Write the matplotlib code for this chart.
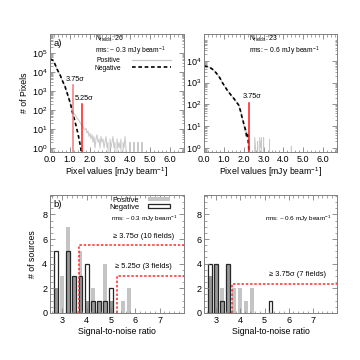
import numpy as np
import matplotlib as mpl
mpl.use("Agg")
import matplotlib.pyplot as plt
from matplotlib.lines import Line2D
from matplotlib.patches import Patch
from matplotlib.ticker import MultipleLocator, LogLocator, NullFormatter


# ---- panel a) pixel histograms (values read off the figure) ----
pix_left = np.round(np.arange(0.0, 4.701, 0.05), 2)
neg_left = [47000, 46000, 43000, 39000, 33000, 25000, 19000, 14000, 11000, 8800,
            7000, 5200, 3800, 2900, 2200, 1700, 1150, 800, 550, 370,
            250, 160, 90, 55, 38, 24, 15, 9, 5.5, 3,
            1.6, 0.8, 0]
pos_left = [47000, 46000, 43000, 39000, 33000, 25000, 19000, 14000, 11000, 8800,
            7000, 5200, 3800, 2900, 2200, 1700, 1150, 800, 550, 370,
            250, 160, 95, 75, 62, 55, 48, 38, 32, 28,
            22, 18, 15, 13, 10, 9, 11, 6, 8, 4,
            6, 3, 5, 2, 4, 1, 3, 5, 2, 3,
            1, 4, 2, 3, 1, 2, 4, 1, 2, 0,
            3, 1, 2, 4, 1, 2, 0, 3, 1, 2,
            1, 3, 0, 2, 1, 4, 1, 0, 0, 0,
            2, 0, 0, 0, 2, 0, 0, 0, 2, 0,
            0, 0, 2, 0, 0]

pix_right = np.round(np.arange(0.0, 4.501, 0.05), 2)
neg_right = [5700, 5650, 5600, 5450, 5250, 5050, 4800, 4500, 4200, 3850,
             3500, 3150, 2800, 2450, 2150, 1850, 1600, 1300, 1050, 900,
             760, 650, 550, 470, 400, 350, 310, 270, 240, 210,
             185, 160, 140, 120, 105, 90, 63, 45, 28, 20,
             13, 9, 6, 3, 4, 1, 0]
pos_right = [5700, 5650, 5600, 5450, 5250, 5050, 4800, 4500, 4200, 3850,
             3500, 3150, 2800, 2450, 2150, 1850, 1600, 1300, 1050, 900,
             760, 650, 550, 470, 400, 350, 310, 270, 240, 210,
             185, 160, 140, 120, 105, 90, 63, 45, 30, 15,
             12, 6, 8, 3, 5, 2, 0, 0, 0, 0,
             0, 3, 1, 0, 2, 0, 3, 1, 3, 0,
             3, 0, 0, 0, 0, 0, 2.5, 0, 0, 0,
             0, 0, 0, 0, 0, 0, 0, 0, 0, 0,
             0, 0, 0, 0, 0, 0, 0, 0, 1.2, 0,
             0]

rms_left, rms_right = 0.3, 0.6
nfields_left, nfields_right = 26, 23
sig_cut_left = [3.75, 5.25]
sig_top_left = [2000, 200]
sig_cut_right = [3.75]
sig_top_right = [120]

# ---- panel b) source counts per S/N bin ----
snr_bins = [2.75, 3.0, 3.25, 3.5, 3.75, 4.0, 4.25, 4.5, 4.75, 5.0, 5.25, 5.5, 5.75]
pos_src_left = [2, 3, 7, 3, 5, 1, 2, 1, 4, 1, 0, 1, 2]
neg_src_left = [5, 0, 5, 3, 3, 4, 1, 1, 1, 2, 0, 0, 0]
pos_src_right = [3, 4, 2, 4, 2, 2, 1, 2, 0, 0, 0, 0, 0]
neg_src_right = [4, 4, 1, 4, 0, 0, 0, 0, 0, 0, 1, 0, 0]

thr_left = [(3.67, 5.5, "≥ 3.75σ (10 fields)"), (5.24, 3.0, "≥ 5.25σ (3 fields)")]
thr_right = [(3.67, 2.35, "≥ 3.75σ (7 fields)")]

LIGHT = "#c4c4c4"
DARK = "#9a9a9a"
POSLINE = "#c8c8c8"
FRAME = "0.5"


def set_rc_params():
    params = {
        "font.family": ["Liberation Sans", "DejaVu Sans"],
        "font.size": 6.3,
        "mathtext.fontset": "custom",
        "mathtext.rm": "Liberation Sans",
        "mathtext.it": "Liberation Sans:italic",
        "mathtext.default": "regular",
        "axes.linewidth": 0.7,
        "axes.edgecolor": FRAME,
        "xtick.direction": "in",
        "ytick.direction": "in",
        "xtick.top": True,
        "ytick.right": True,
        "xtick.color": FRAME,
        "ytick.color": FRAME,
        "xtick.labelcolor": "black",
        "ytick.labelcolor": "black",
        "xtick.major.size": 3.5,
        "ytick.major.size": 3.5,
        "xtick.minor.size": 1.8,
        "ytick.minor.size": 1.8,
        "xtick.major.width": 0.6,
        "ytick.major.width": 0.6,
        "xtick.minor.width": 0.5,
        "ytick.minor.width": 0.5,
        "xtick.major.pad": 2.5,
        "ytick.major.pad": 2,
        "xtick.labelsize": 6.5,
        "ytick.labelsize": 6.5,
    }
    for p in params:
        mpl.rcParams[p] = params[p]


def pixel_panel(ax, x, pos, neg, cuts, tops, rms, nf, ylim, ymax_dec, light_first):
    ax.plot(x[:len(pos)], pos, color=POSLINE, lw=0.7)
    ax.plot(x[:len(neg)], neg, color="black", lw=1.2, dashes=(2.2, 1.6))
    for i, (c, t) in enumerate(zip(cuts, tops)):
        col = "#f07a7a" if (light_first and i == 0) else "#ff1a1a"
        ax.plot([c * rms, c * rms], [ylim[0], t], color=col, lw=1.1)
        ax.text(c * rms + 0.15, t * 1.35, f"{c:.2f}σ", ha="center", va="bottom", fontsize=5.3)
    ax.set_yscale("log")
    ax.set_xlim(0, 6.7)
    ax.set_ylim(*ylim)
    ax.set_yticks([10.0 ** k for k in range(ymax_dec + 1)])
    ax.yaxis.set_minor_locator(LogLocator(base=10, subs=np.arange(2, 10)))
    ax.yaxis.set_minor_formatter(NullFormatter())
    ax.set_xticks(np.arange(0, 6.01, 1.0))
    ax.set_xticklabels([f"{v:.1f}" for v in np.arange(0, 6.01, 1.0)])
    ax.xaxis.set_minor_locator(MultipleLocator(0.2))
    ax.set_xlabel(r"Pixel values [mJy beam$^{-1}$]", labelpad=1)
    ax.text(0.335, 0.955, r"N$_{\rm fields}$: %d" % nf, transform=ax.transAxes,
            fontsize=4.9, va="center")
    ax.text(0.335, 0.852, r"rms: ~ %.1f mJy beam$^{-1}$" % rms, transform=ax.transAxes,
            fontsize=4.9, va="center")


def source_panel(ax, pos, neg, thr, rms):
    pos = np.array(pos)
    neg = np.array(neg)
    ax.bar(snr_bins, pos, width=0.16, color=LIGHT, lw=0)
    both = np.minimum(pos, neg)
    ax.bar(snr_bins, both, width=0.16, color=DARK, lw=0)
    m = neg > 0
    ax.bar(np.array(snr_bins)[m], neg[m], width=0.16, fill=False,
           edgecolor="#262626", lw=0.9)
    for xv, yv, lab in thr:
        ax.plot([xv, xv, 8.0], [0, yv, yv], color="#ff2a2a", lw=1.1, dashes=(1.6, 1.2))
        ax.text(6.35, yv + 0.45, lab, ha="center", va="bottom", fontsize=5.4)
    ax.set_xlim(2.5, 8.0)
    ax.set_ylim(0, 9.6)
    ax.set_xticks([3, 4, 5, 6, 7])
    ax.set_yticks([0, 2, 4, 6, 8])
    ax.xaxis.set_minor_locator(MultipleLocator(0.2))
    ax.yaxis.set_minor_locator(MultipleLocator(0.5))
    ax.set_xlabel("Signal-to-noise ratio", labelpad=1)
    ax.text(0.455, 0.795, r"rms: ~ %.1f mJy beam$^{-1}$" % rms, transform=ax.transAxes,
            fontsize=4.6, va="center")


def main():
    set_rc_params()
    fig = plt.figure(figsize=(3.6, 3.6), dpi=100)
    ax1 = fig.add_axes([0.139, 0.578, 0.372, 0.328])
    ax2 = fig.add_axes([0.567, 0.578, 0.369, 0.328])
    ax3 = fig.add_axes([0.139, 0.131, 0.372, 0.328])
    ax4 = fig.add_axes([0.567, 0.131, 0.369, 0.328])

    pixel_panel(ax1, pix_left, pos_left, neg_left, sig_cut_left, sig_top_left,
                rms_left, nfields_left, (0.62, 1.0e6), 5, True)
    pixel_panel(ax2, pix_right, pos_right, neg_right, sig_cut_right, sig_top_right,
                rms_right, nfields_right, (0.66, 1.7e5), 4, False)
    ax1.set_ylabel("# of Pixels", labelpad=2)
    ax1.text(0.025, 0.915, "a)", transform=ax1.transAxes, fontsize=6.8, va="center")
    ax1.legend(handles=[Line2D([], [], color=POSLINE, lw=0.9),
                        Line2D([], [], color="black", lw=1.2, dashes=(2.2, 1.6))],
               labels=["Positive", "Negative"], markerfirst=False, loc="upper left",
               bbox_to_anchor=(0.33, 0.8), frameon=False, fontsize=4.9,
               handlelength=5.8, handletextpad=1.6, labelspacing=0.05,
               borderpad=0, borderaxespad=0)

    source_panel(ax3, pos_src_left, neg_src_left, thr_left, rms_left)
    source_panel(ax4, pos_src_right, neg_src_right, thr_right, rms_right)
    ax3.set_ylabel("# of sources", labelpad=4)
    ax3.text(0.025, 0.915, "b)", transform=ax3.transAxes, fontsize=6.8, va="center")
    ax3.legend(handles=[Patch(facecolor=LIGHT, edgecolor="none"),
                        Patch(facecolor="white", edgecolor="#262626", lw=0.9)],
               labels=["Positive", "Negative"], markerfirst=False, loc="upper left",
               bbox_to_anchor=(0.44, 0.985), frameon=False, fontsize=5.4,
               handlelength=2.9, handleheight=0.45, handletextpad=1.2,
               labelspacing=0.0, borderpad=0, borderaxespad=0)

    fig.savefig("out.png", dpi=100)
    plt.close(fig)


if __name__ == "__main__":
    main()
